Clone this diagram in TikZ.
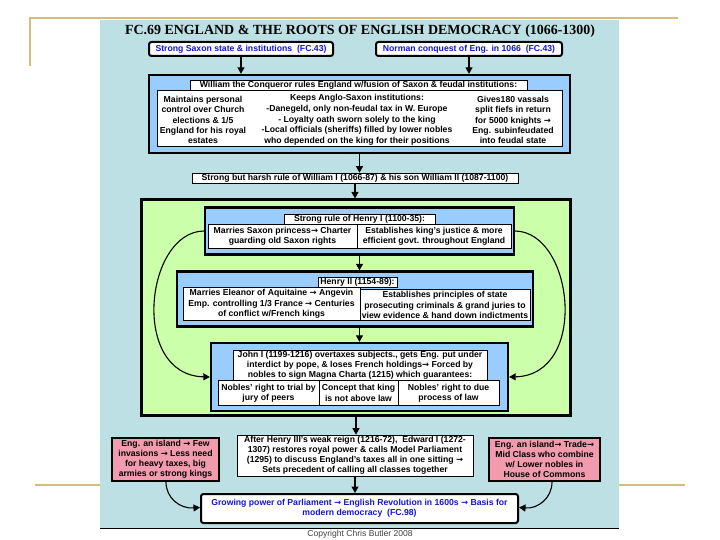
\documentclass[tikz,border=0pt]{standalone}
\usepackage{fontspec}
\setmainfont{Liberation Sans}
\newfontfamily\titlefont{Liberation Serif}
\newfontfamily\arrfont{DejaVu Sans}
\newcommand{\ra}{{\arrfont\bfseries\fontsize{8.4}{8}\selectfont →}}
\usetikzlibrary{arrows.meta}
\definecolor{panelc}{RGB}{188,224,227}
\definecolor{bluec}{RGB}{153,204,255}
\definecolor{greenc}{RGB}{204,255,170}
\definecolor{pinkc}{RGB}{242,155,175}
\definecolor{goldc}{RGB}{212,190,120}
\definecolor{textblue}{RGB}{20,20,210}
\tikzset{
  base/.style={font=\fontsize{8.7}{10.3}\selectfont\bfseries, align=center, inner sep=0pt, text=black},
  thk/.style={base, draw, line width=2.3bp},
  thn/.style={base, draw, line width=0.7bp, fill=white, inner ysep=0.7bp},
  rbox/.style={base, draw, line width=2bp, fill=white, rounded corners=2.5bp, text=textblue},
  arr/.style={-{Triangle[width=7bp,length=6.5bp]}, line width=1.1bp},
  goldline/.style={goldc, line width=2bp},
}
\begin{document}
\begin{tikzpicture}[x=1bp,y=-1bp]
\useasboundingbox (0,0) rectangle (720,540);
% slide frame
\draw[goldline] (30,66) -- (30,18) -- (678,18);
\draw[goldline] (35,485) -- (685,485);
\fill[panelc] (100,20) rectangle (619,528);
\draw[line width=0.9bp] (100,528) -- (619,528);
\node[font=\fontsize{8.6}{9}\selectfont, text=black!75, inner sep=0pt] (copy) at (360,534) {Copyright Chris Butler 2008};
% title
\node[font=\titlefont\fontsize{14}{16}\selectfont\bfseries, inner sep=0pt] (title) at (360,31) {FC.69 ENGLAND \& THE ROOTS OF ENGLISH DEMOCRACY (1066-1300)};
% top boxes
\node[rbox, minimum width=184bp, minimum height=14bp] (saxon) at (241,49) {Strong Saxon state \& institutions\ \ (FC.43)};
\node[rbox, minimum width=186bp, minimum height=14bp] (norman) at (469,49) {Norman conquest of Eng. in 1066\ \ (FC.43)};
% William box
\node[thk, fill=bluec, minimum width=421bp, minimum height=78bp] (william) at (359.5,114) {};
\node[thn, minimum width=337bp, minimum height=10bp] (wtitle) at (358.5,85.5) {William the Conqueror rules England w/fusion of Saxon \& feudal institutions:};
\node[thn, minimum width=405bp, minimum height=56bp] (wbody) at (359.5,118.5) {};
\node[base] (wl) at (203,120) {Maintains personal\\control over Church\\elections \& 1/5\\England for his royal\\estates};
\node[base, font=\fontsize{8.7}{10.8}\selectfont\bfseries] (wm) at (357,120) {Keeps Anglo-Saxon institutions:\\-Danegeld, only non-feudal tax in W. Europe\\- Loyalty oath sworn solely to the king\\-Local officials (sheriffs) filled by lower nobles\\who depended on the king for their positions};
\node[base] (wr) at (513,120) {Gives180 vassals\\split fiefs in return\\for 5000 knights \ra\\Eng. subinfeudated\\into feudal state};
\draw[arr] (saxon.south) -- (saxon.south |- william.north);
\draw[arr] (norman.south) -- (norman.south |- william.north);
% harsh rule
\node[thn, minimum width=326bp, minimum height=10bp] (harsh) at (355,178) {Strong but harsh rule of William I (1066-87) \& his son William II (1087-1100)};
\draw[arr] (william.south) -- (william.south |- harsh.north);
% green box
\node[draw, line width=3bp, fill=greenc, minimum width=428bp, minimum height=215bp] (green) at (356,307.5) {};
\draw[arr] (harsh.south) -- (harsh.south |- green.north);
% Henry I
\node[thk, fill=bluec, minimum width=309bp, minimum height=47bp] (h1) at (359.5,231) {};
\node[thn, minimum width=151bp, minimum height=10bp] (h1t) at (359.5,219) {Strong rule of Henry I (1100-35):};
\node[thn, minimum width=149bp, minimum height=24bp] (h1l) at (282.5,236.5) {Marries Saxon princess\ra\ Charter\\guarding old Saxon rights};
\node[thn, minimum width=154bp, minimum height=24bp] (h1r) at (434,236.5) {Establishes king's justice \& more\\efficient govt. throughout England};
% Henry II
\node[thk, fill=bluec, minimum width=356bp, minimum height=55bp] (h2) at (355,299) {};
\node[thn, minimum width=177bp, minimum height=33bp] (h2l) at (271.5,304) {Marries Eleanor of Aquitaine \ra\ Angevin\\Emp. controlling 1/3 France \ra\ Centuries\\of conflict w/French kings};
\node[thn, minimum width=170bp, minimum height=31bp] (h2r) at (445,305) {Establishes principles of state\\prosecuting criminals \& grand juries to\\view evidence \& hand down indictments};
\node[thn, minimum width=79bp, minimum height=10bp] (h2t) at (357.5,282) {Henry II (1154-89):};
\draw[arr] (h1.south) -- (h1.south |- h2.north);
% John
\node[thk, fill=bluec, minimum width=297bp, minimum height=68bp] (john) at (359.5,377) {};
\node[thn, minimum width=254bp, minimum height=30bp, font=\fontsize{8.7}{10}\selectfont\bfseries] (jt) at (360,365.5) {John I (1199-1216) overtaxes subjects., gets Eng. put under\\interdict by pope, \& loses French holdings\ra\ Forced by\\nobles to sign Magna Charta (1215) which guarantees:};
\node[thn, minimum width=101bp, minimum height=25bp] (j1) at (268.5,393) {Nobles' right to trial by\\jury of peers};
\node[thn, minimum width=79bp, minimum height=25bp] (j2) at (358.5,393) {Concept that king\\is not above law};
\node[thn, minimum width=101bp, minimum height=25bp] (j3) at (448.5,393) {Nobles' right to due\\process of law};
\draw[arr] (h1.south |- h2.south) -- (h1.south |- john.north);
% curved arrows in green box
\draw[arr] (h1.west) .. controls (145,232) and (130,375) .. (john.west);
\draw[arr] (h1.east) .. controls (574,232) and (589,375) .. (john.east);
% bottom row
\node[thn, minimum width=236bp, minimum height=41bp, font=\fontsize{8.7}{10}\selectfont\bfseries] (edward) at (355,455.5) {After Henry III's weak reign (1216-72),\ \ Edward I (1272-\\1307) restores royal power \& calls Model Parliament\\(1295) to discuss England's taxes all in one sitting \ra\\Sets precedent of calling all classes together};
\draw[arr] (green.south) -- (green.south |- edward.north);
\node[thk, fill=pinkc, minimum width=107bp, minimum height=43bp, font=\fontsize{8.7}{10}\selectfont\bfseries] (pinkl) at (165.5,459.5) {Eng. an island \ra\ Few\\invasions \ra\ Less need\\for heavy taxes, big\\armies or strong kings};
\node[thk, fill=pinkc, minimum width=111bp, minimum height=43bp, font=\fontsize{8.7}{10}\selectfont\bfseries] (pinkr) at (544.5,459.5) {Eng. an island\ra\ Trade\ra\\Mid Class who combine\\w/ Lower nobles in\\House of Commons};
\node[rbox, minimum width=317bp, minimum height=29bp] (final) at (359.5,508.5) {Growing power of Parliament \ra\ English Revolution in 1600s \ra\ Basis for\\modern democracy\ \ (FC.98)};
\draw[arr] (edward.south) -- (edward.south |- final.north);
\draw[arr] ([xshift=0.5bp]pinkl.south) .. controls (166,498) and (180,509) .. ([yshift=1bp]final.west);
\draw[arr] ([xshift=7.5bp]pinkr.south) .. controls (552,498) and (538,509) .. ([yshift=1bp]final.east);
\end{tikzpicture}
\end{document}
